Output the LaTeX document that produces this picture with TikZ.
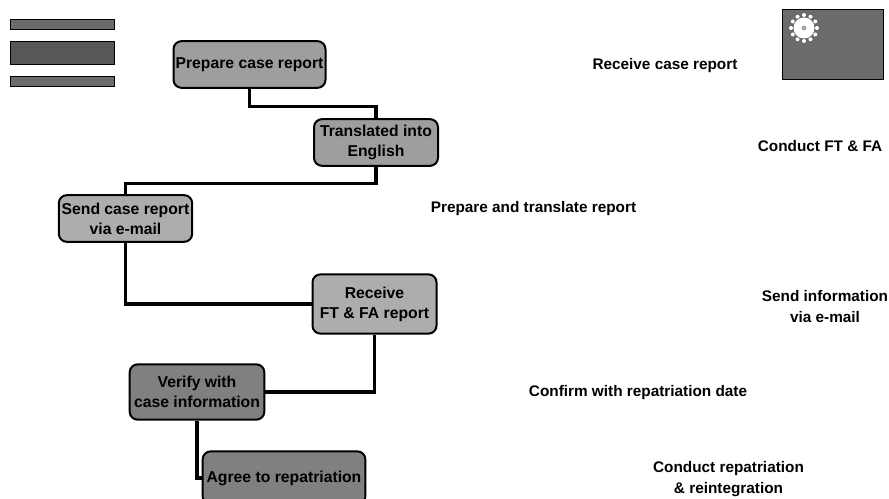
\documentclass[tikz,border=0pt]{standalone}
\usepackage{fontspec}
\setmainfont{Liberation Sans}
\begin{document}
\begin{tikzpicture}[x=0.75pt,y=-0.75pt,
  stepbox/.style={draw=black,line width=1.5pt,rounded corners=6pt,fill=#1,inner sep=0pt,align=center,
    font=\fontsize{11.8pt}{15pt}\selectfont\bfseries,text=black},
  stepbox/.default=boxgray,
  lbl/.style={inner sep=0pt,align=center,font=\fontsize{11.5pt}{15.5pt}\selectfont\bfseries,text=black},
  link/.style={draw=black,line width=2.5pt,line join=miter},
  bar/.style={draw=black,line width=0.8pt,inner sep=0pt,fill=#1}]
\definecolor{boxgray}{gray}{0.62}
\definecolor{boxlight}{gray}{0.68}
\definecolor{boxdark}{gray}{0.5}
\definecolor{legmid}{gray}{0.42}
\definecolor{legdark}{gray}{0.34}
\definecolor{flaggray}{gray}{0.42}
\useasboundingbox (0,0) rectangle (889,499);
\fill[white] (0,0) rectangle (889,499);
% legend
\node[bar=legmid,minimum width=78pt,minimum height=8pt] (legA) at (62.5,24.5) {};
\node[bar=legdark,minimum width=78pt,minimum height=17.5pt] (legB) at (62.5,53) {};
\node[bar=legmid,minimum width=78pt,minimum height=8pt] (legC) at (62.5,81.5) {};
% flag
\node[bar=flaggray,minimum width=76pt,minimum height=52pt] (flag) at (833,44.5) {};
\fill[white] (804,28) circle (10.5);
\foreach \a in {0,30,...,330}{\fill[white] (804,28) ++(\a:13) circle (2);}
\fill[flaggray!60] (804,28) circle (2.5);
% steps
\node[stepbox=boxgray,minimum width=114pt,minimum height=35pt] (prep) at (249.5,64.5) {Prepare case report};
\node[stepbox=boxgray,minimum width=93pt,minimum height=35pt] (trans) at (376,142.5) {Translated into\\English};
\node[stepbox=boxlight,minimum width=100pt,minimum height=35pt] (send) at (125.5,218.5) {Send case report\\via e-mail};
\node[stepbox=boxlight,minimum width=93pt,minimum height=44.5pt] (recv) at (374.5,304) {Receive\\FT \& FA report};
\node[stepbox=boxdark,minimum width=101pt,minimum height=41.5pt] (verify) at (197,392) {Verify with\\case information};
\node[stepbox=boxdark,minimum width=122pt,minimum height=40pt] (agree) at (284,478) {Agree to repatriation};
% connectors
\draw[link] (prep.south) -- ++(0,18) -| (trans.north);
\draw[link] (trans.south) -- ++(0,17) -| (send.north);
\draw[link] (send.south) |- (recv.west);
\draw[link] (recv.south) |- (verify.east);
\draw[link] (verify.south) |- (agree.west);
% labels
\node[lbl] (l1) at (665,65.5) {Receive case report};
\node[lbl] (l2) at (820,146) {Conduct FT \& FA};
\node[lbl] (l3) at (533.5,208.5) {Prepare and translate report};
\node[lbl] (l4) at (825,306.5) {Send information\\via e-mail};
\node[lbl] (l5) at (638,392.5) {Confirm with repatriation date};
\node[lbl] (l6) at (728.5,479) {Conduct repatriation\\\&\ reintegration};
\end{tikzpicture}
\end{document}
